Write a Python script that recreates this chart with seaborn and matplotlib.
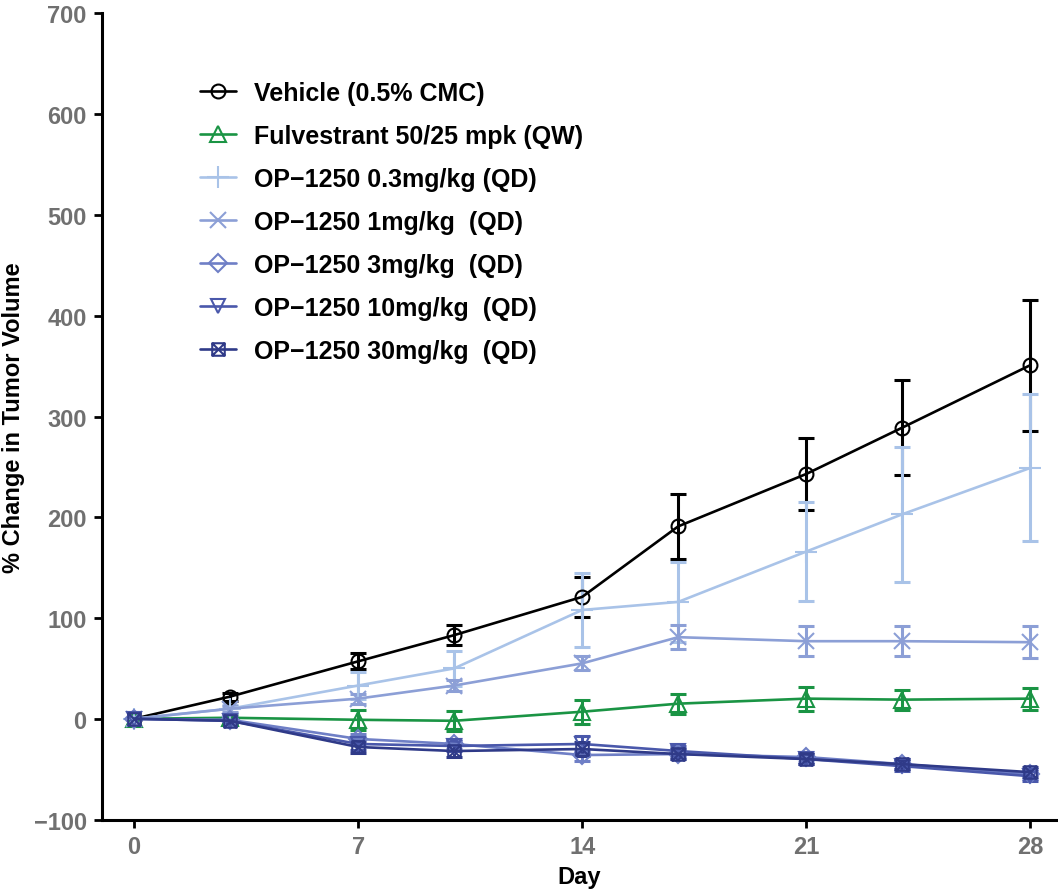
import numpy as np
import pandas as pd
import matplotlib
matplotlib.use("Agg")
import matplotlib.pyplot as plt
from matplotlib.path import Path
import seaborn as sns

# days measured
days = [0, 3, 7, 10, 14, 17, 21, 24, 28]

# group names
groups = [
    "Vehicle (0.5% CMC)",
    "Fulvestrant 50/25 mpk (QW)",
    "OP\u22121250 0.3mg/kg (QD)",
    "OP\u22121250 1mg/kg  (QD)",
    "OP\u22121250 3mg/kg  (QD)",
    "OP\u22121250 10mg/kg  (QD)",
    "OP\u22121250 30mg/kg  (QD)",
]

# mean % change in tumor volume
vehicle = [0, 22, 57, 83, 121, 191, 243, 289, 351]
fulvestrant = [0, 1, -1, -2, 7, 15, 20, 19, 20]
op_03 = [0, 10, 33, 50, 108, 116, 166, 203, 249]
op_1 = [0, 10, 20, 33, 55, 81, 77, 77, 76]
op_3 = [0, -1, -20, -25, -36, -35, -38, -45, -55]
op_10 = [0, -2, -25, -27, -25, -32, -40, -47, -57]
op_30 = [0, -2, -28, -32, -30, -35, -40, -45, -53]

# SEM
vehicle_err = [0, 4, 8, 10, 20, 32, 36, 47, 65]
fulvestrant_err = [0, 3, 10, 10, 12, 10, 12, 10, 11]
op_03_err = [0, 4, 13, 17, 37, 40, 49, 67, 73]
op_1_err = [0, 3, 5, 5, 7, 12, 15, 15, 16]
op_3_err = [0, 3, 5, 5, 6, 5, 5, 5, 5]
op_10_err = [0, 3, 6, 5, 8, 5, 5, 5, 5]
op_30_err = [0, 3, 6, 6, 7, 5, 5, 5, 5]

means = [vehicle, fulvestrant, op_03, op_1, op_3, op_10, op_30]
errs = [vehicle_err, fulvestrant_err, op_03_err, op_1_err, op_3_err, op_10_err, op_30_err]

colors = ["#000000", "#1a9444", "#a9c3e8", "#8c9fd6", "#6f7fc6", "#4a58ab", "#2f3a88"]

# square with an x inside
boxx = Path(
    [(-1, -1), (1, -1), (1, 1), (-1, 1), (-1, -1), (-1, -1), (1, 1), (-1, 1), (1, -1)],
    [Path.MOVETO, Path.LINETO, Path.LINETO, Path.LINETO, Path.CLOSEPOLY,
     Path.MOVETO, Path.LINETO, Path.MOVETO, Path.LINETO],
)
markers = ["o", "^", "+", "x", "D", "v", boxx]
msizes = [10, 11, 16, 12, 9, 10, 9]

sns.set_style("white")
plt.rcParams["font.family"] = ["Liberation Sans", "DejaVu Sans"]
plt.rcParams["text.color"] = "black"
plt.rcParams["axes.labelcolor"] = "black"

fig = plt.figure(figsize=(10.58, 8.95), dpi=100)
ax = fig.add_axes([0.0964, 0.0832, 0.9017, 0.9006])

order = [6, 5, 4, 3, 2, 1, 0]
for i in order:
    df = pd.DataFrame({"Day": days, "val": means[i]})
    ax.errorbar(days, means[i], yerr=errs[i], fmt="none", ecolor=colors[i],
                elinewidth=2.2, capsize=6, capthick=2.2, zorder=2 + i * 0.1)
    sns.lineplot(data=df, x="Day", y="val", ax=ax, color=colors[i], lw=1.9,
                 marker=markers[i], markersize=msizes[i], markerfacecolor="none",
                 markeredgecolor=colors[i], markeredgewidth=1.5,
                 label=groups[i], zorder=3 + i * 0.1)

h, l = ax.get_legend_handles_labels()
lut = dict(zip(l, h))
leg = ax.legend([lut[g] for g in groups], groups, loc="upper left",
                bbox_to_anchor=(0.1027, 0.916), frameon=False, handlelength=1.45,
                handletextpad=0.7, borderpad=0, borderaxespad=0,
                labelspacing=0.76, prop={"weight": "bold", "size": 18})
for t in leg.get_texts():
    t.set_color("black")

ax.set_xlim(-1.0, 28.8)
ax.set_ylim(-100, 700)
ax.set_xticks([0, 7, 14, 21, 28])
ax.set_yticks(range(-100, 701, 100))
ax.set_yticklabels(["\u2212100"] + [str(v) for v in range(0, 701, 100)])

for s in ["top", "right"]:
    ax.spines[s].set_visible(False)
for s in ["left", "bottom"]:
    ax.spines[s].set_linewidth(2.2)
    ax.spines[s].set_color("black")
ax.tick_params(axis="both", direction="out", length=6, width=2, color="black",
               labelcolor="#707070", pad=5, left=True, bottom=True)
for t in ax.get_yticklabels():
    t.set_fontweight("bold")
    t.set_fontsize(17)
for t in ax.get_xticklabels():
    t.set_fontweight("bold")
    t.set_fontsize(17)
ax.tick_params(axis="x", pad=5)

ax.set_xlabel("Day", fontsize=17, fontweight="bold", labelpad=5, color="black")
ax.set_ylabel("% Change in Tumor Volume", fontsize=17, fontweight="bold",
              labelpad=6, color="black")

fig.savefig("out.png", dpi=100)
